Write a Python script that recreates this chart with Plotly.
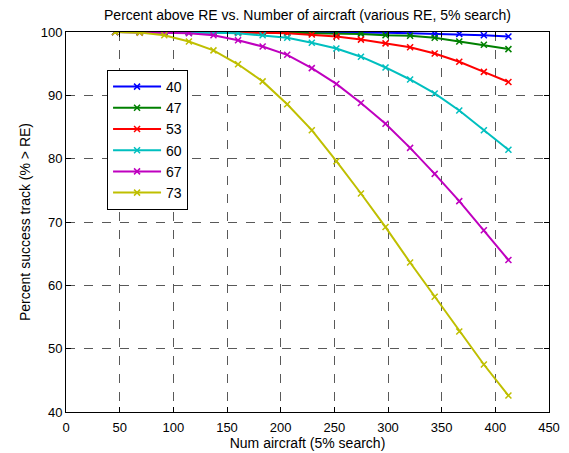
import plotly.graph_objects as go

x_aircraft = [45.8, 68.7, 91.6, 114.5, 137.4, 160.3, 183.2, 206.1, 229.0, 251.9,
              274.8, 297.7, 320.6, 343.5, 366.4, 389.3, 412.2]

re_labels = ["40", "47", "53", "60", "67", "73"]

y_40 = [100, 100, 100, 100, 100, 100, 100, 100, 99.9, 99.9, 99.9, 99.9, 99.8, 99.7, 99.7, 99.5, 99.3]
y_47 = [100, 100, 100, 100, 100, 100, 100, 99.9, 99.8, 99.8, 99.7, 99.5, 99.4, 99.1, 98.5, 98.0, 97.3]
y_53 = [100, 100, 100, 100, 100, 99.9, 99.9, 99.8, 99.6, 99.3, 98.8, 98.2, 97.6, 96.6, 95.3, 93.7, 92.1]
y_60 = [100, 100, 100, 99.9, 99.9, 99.8, 99.5, 99.1, 98.3, 97.4, 96.1, 94.4, 92.5, 90.3, 87.6, 84.5, 81.4]
y_67 = [100, 99.9, 99.9, 99.8, 99.5, 98.7, 97.7, 96.4, 94.3, 91.8, 88.8, 85.5, 81.7, 77.6, 73.3, 68.7, 64.0]
y_73 = [100, 99.9, 99.5, 98.5, 97.1, 94.9, 92.2, 88.6, 84.5, 79.6, 74.5, 69.2, 63.6, 58.2, 52.7, 47.5, 42.6]

series = [y_40, y_47, y_53, y_60, y_67, y_73]
colors = ["#0000FF", "#008000", "#FF0000", "#00BFBF", "#BF00BF", "#BFBF00"]

x_ticks = [0, 50, 100, 150, 200, 250, 300, 350, 400, 450]
y_ticks = [40, 50, 60, 70, 80, 90, 100]

FONT = "Liberation Sans, Arial, Helvetica, sans-serif"

fig = go.Figure()
for lab, ys, c in zip(re_labels, series, colors):
    fig.add_trace(go.Scatter(
        x=x_aircraft, y=ys, name=lab, mode="lines+markers",
        line=dict(color=c, width=2),
        marker=dict(symbol="x-thin", size=6, line=dict(color=c, width=1.5), color=c),
    ))

axis_common = dict(
    showline=True, linecolor="black", linewidth=1, mirror="ticks",
    ticks="inside", ticklen=5, tickcolor="black",
    showgrid=True, gridcolor="rgba(0,0,0,0.65)", griddash="dash", gridwidth=1,
    zeroline=False, automargin=False,
    tickfont=dict(family=FONT, size=13, color="black"),
)

fig.update_layout(
    width=569, height=453,
    margin=dict(l=66, r=20, t=32, b=41),
    paper_bgcolor="white", plot_bgcolor="white",
    font=dict(family=FONT, size=13, color="black"),
    title=dict(text="Percent above RE vs. Number of aircraft (various RE, 5% search)",
               x=0.5, xref="paper", xanchor="center", y=1 - 15 / 453, yanchor="middle",
               font=dict(family=FONT, size=14, color="black")),
    xaxis=dict(range=[0, 450], tickvals=x_ticks, ticklabelstandoff=3,
               title=dict(text="Num aircraft (5% search)", standoff=3,
                          font=dict(family=FONT, size=14)), **axis_common),
    yaxis=dict(range=[40, 100], tickvals=y_ticks,
               title=dict(text="Percent success track (% > RE)", standoff=6,
                          font=dict(family=FONT, size=14)), **axis_common),
    legend=dict(x=0.085, y=0.90, xanchor="left", yanchor="top",
                bgcolor="white", bordercolor="black", borderwidth=1,
                font=dict(family=FONT, size=14, color="black"),
                itemwidth=48, tracegroupgap=0),
    showlegend=True,
)

fig.write_html("out.html")
